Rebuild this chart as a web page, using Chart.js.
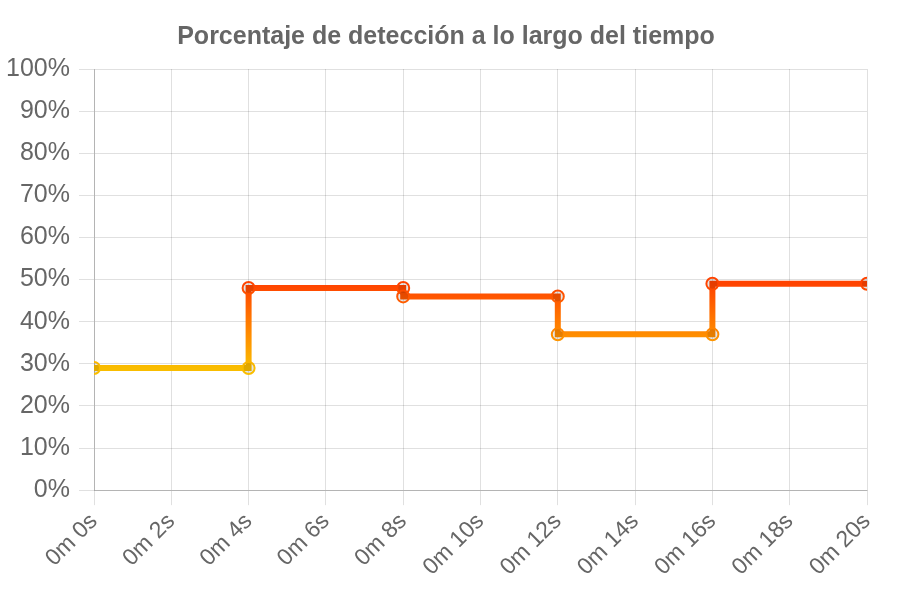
<!DOCTYPE html>
<html>
<head>
<meta charset="utf-8">
<script src="https://cdn.jsdelivr.net/npm/chart.js@4.4.0/dist/chart.umd.min.js"></script>
<style>
    html, body { margin: 0; padding: 0; background: #fff; }
    #wrap { width: 910px; height: 600px; }
</style>
</head>
<body>
<div id="wrap"><canvas id="chartDeteccion"></canvas></div>
<script>
// Datos
const tiempos = [0, 4, 4, 8, 8, 12, 12, 16, 16, 20];          // segundos
const porcentajes = [29, 29, 48, 48, 46, 46, 37, 37, 49, 49];  // % detección
const titulo = 'Porcentaje de detección a lo largo del tiempo';

const puntos = tiempos.map((t, i) => ({ x: t, y: porcentajes[i] }));

// Degradado vertical: amarillo en valores bajos, rojo en altos
function colorDegradado(context) {
    const chart = context.chart;
    const { ctx, chartArea, scales } = chart;
    if (!chartArea) return '#ff8c00';
    const yBajo = scales.y.getPixelForValue(29);
    const yAlto = scales.y.getPixelForValue(49);
    const g = ctx.createLinearGradient(0, yBajo, 0, yAlto);
    g.addColorStop(0, '#f9bd00');
    g.addColorStop(0.4, '#ff8c00');
    g.addColorStop(0.85, '#ff5500');
    g.addColorStop(1, '#ff4300');
    return g;
}

// Deja que las etiquetas del eje Y salgan del relleno izquierdo
const etiquetasSinRecorte = {
    id: 'etiquetasSinRecorte',
    afterLayout(chart) { chart.scales.y.left = 0; }
};

Chart.defaults.font.family = '"Liberation Sans", Arial, Helvetica, sans-serif';
Chart.defaults.color = '#666';

new Chart(document.getElementById('chartDeteccion'), {
    type: 'line',
    data: {
        datasets: [{
            label: 'Detección',
            data: puntos,
            borderColor: colorDegradado,
            pointBorderColor: colorDegradado,
            pointBackgroundColor: 'rgba(0,0,0,0.1)',
            borderWidth: 6,
            pointRadius: 6,
            pointBorderWidth: 2,
            fill: false,
            tension: 0
        }]
    },
    plugins: [etiquetasSinRecorte],
    options: {
        responsive: true,
        maintainAspectRatio: false,
        animation: false,
        layout: { padding: { left: 25, right: 43, top: 9, bottom: 16 } },
        plugins: {
            legend: { display: false },
            tooltip: { enabled: false },
            title: {
                display: true,
                text: titulo,
                color: '#666',
                font: { size: 25, weight: 'bold' },
                padding: { top: 13, bottom: 17 }
            }
        },
        scales: {
            x: {
                type: 'linear',
                min: 0,
                max: 20,
                ticks: {
                    stepSize: 2,
                    maxRotation: 45,
                    minRotation: 45,
                    font: { size: 23 },
                    callback: (v) => '0m ' + v + 's'
                },
                grid: { color: 'rgba(0,0,0,0.12)', tickLength: 15 },
                border: { color: 'rgba(0,0,0,0.2)' }
            },
            y: {
                min: 0,
                max: 100,
                afterFit: (scale) => { scale.width = 69; },
                ticks: {
                    stepSize: 10,
                    font: { size: 25 },
                    padding: 9,
                    callback: (v) => v + '%'
                },
                grid: { color: 'rgba(0,0,0,0.12)', tickLength: 15 },
                border: { color: 'rgba(0,0,0,0.2)' }
            }
        }
    }
});
</script>
</body>
</html>
